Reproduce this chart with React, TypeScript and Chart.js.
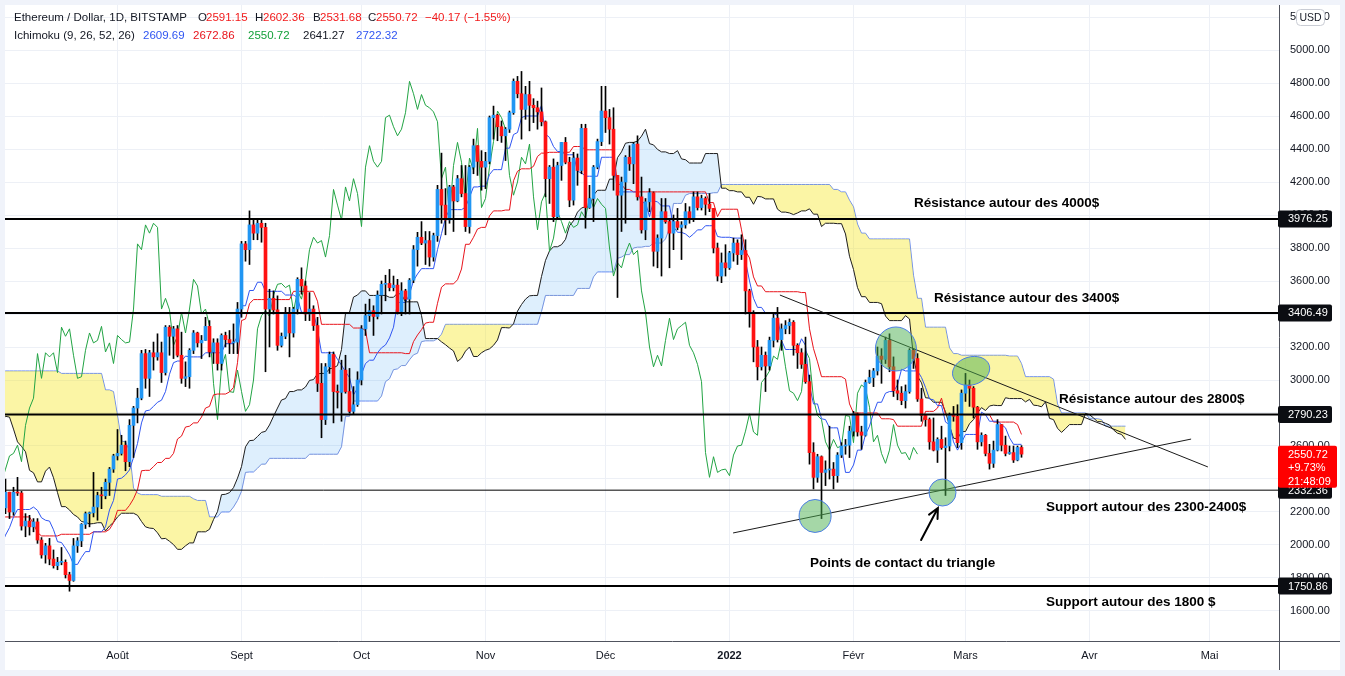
import { useEffect, useRef } from "react";
import { Chart, registerables } from "chart.js";

Chart.register(...registerables);

// ---------------- DATA ----------------
// Day index 0 = 1 Aug 2021. First daily candle = 15 Apr 2021 (day -108), last = 15 Mar 2022 (day 226).
// Candles before early July are not visible; they only feed the Ichimoku indicator.
const FIRST_DAY = -108;
const FIRST_OPEN = 2430;

const closes = [
  /* Apr 21 */ 2515, 2420, 2315, 2235, 2165, 2330, 2360, 2400, 2365, 2215, 2305, 2530, 2660, 2750, 2760, 2770,
  /* May 21 */ 2945, 2950, 3430, 3250, 3520, 3490, 3480, 3900, 3930, 3950, 4170, 3820, 3720, 4080, 3640, 3590, 3280, 3380, 2440, 2770, 2430, 2300, 2100, 2640, 2710, 2880, 2740, 2420, 2280, 2390, 2710,
  /* Jun 21 */ 2630, 2710, 2860, 2690, 2630, 2710, 2590, 2510, 2610, 2470, 2360, 2370, 2510, 2580, 2550, 2370, 2370, 2230, 2180, 2250, 1890, 1875, 1970, 1990, 1810, 1830, 1980, 2080, 2160, 2275,
  /* Jul 21 */ 2110, 2150, 2225, 2320, 2200, 2320, 2315, 2115, 2145, 2110, 2140, 2030, 1940, 1995, 1915, 1875, 1895, 1895, 1820, 1785, 1995, 2025, 2125, 2190, 2195, 2230, 2300, 2298, 2380, 2460, 2540,
  /* Aug 21 */ 2555, 2605, 2505, 2725, 2830, 2890, 3160, 3010, 3165, 3140, 3165, 3045, 3320, 3265, 3310, 3150, 3010, 3020, 3180, 3285, 3225, 3240, 3325, 3170, 3225, 3100, 3270, 3245, 3225, 3230, 3430,
  /* Sep 21 */ 3825, 3790, 3940, 3890, 3950, 3925, 3430, 3495, 3425, 3210, 3265, 3410, 3285, 3430, 3610, 3570, 3400, 3430, 3330, 2980, 2760, 3080, 3155, 2930, 2925, 3060, 2930, 2810, 2850, 3000,
  /* Oct 21 */ 3310, 3390, 3420, 3385, 3515, 3580, 3585, 3560, 3575, 3415, 3540, 3490, 3605, 3790, 3865, 3830, 3845, 3745, 3875, 4155, 4060, 3970, 4170, 4085, 4220, 4130, 3930, 4290, 4420, 4325, 4290,
  /* Nov 21 */ 4325, 4590, 4605, 4535, 4480, 4520, 4620, 4810, 4735, 4640, 4730, 4665, 4650, 4625, 4565, 4220, 4290, 3990, 4300, 4440, 4320, 4090, 4345, 4270, 4525, 4045, 4100, 4290, 4445, 4630,
  /* Dec 21 */ 4590, 4520, 4240, 4120, 4200, 4350, 4310, 4430, 4110, 3910, 4080, 4135, 3780, 3860, 4020, 3960, 3890, 3960, 3925, 3940, 4020, 3980, 4110, 4045, 4100, 4065, 4040, 3800, 3630, 3710, 3680,
  /* Jan 22 */ 3770, 3830, 3760, 3785, 3540, 3410, 3200, 3080, 3150, 3085, 3240, 3375, 3245, 3310, 3330, 3350, 3210, 3165, 3095, 2990, 2560, 2410, 2535, 2440, 2455, 2460, 2420, 2545, 2600, 2605, 2690,
  /* Feb 22 */ 2795, 2685, 2665, 2985, 3015, 3055, 3145, 3125, 3240, 3080, 2935, 2920, 2875, 2930, 3180, 3130, 2885, 2785, 2760, 2625, 2575, 2640, 2590, 2600, 2785, 2780, 2620, 2920,
  /* Mar 22 */ 2970, 2950, 2835, 2625, 2665, 2555, 2495, 2575, 2730, 2605, 2555, 2560, 2515, 2591.15, 2550.72,
];

const highs = [
  /* Apr 21 */ 2545, 2550, 2495, 2355, 2280, 2345, 2495, 2645, 2420, 2370, 2345, 2530, 2675, 2760, 2800, 2790,
  /* May 21 */ 2950, 2985, 3450, 3530, 3540, 3610, 3600, 3900, 3970, 4200, 4190, 4380, 4150, 4180, 4160, 3870, 3560, 3550, 3440, 2990, 2930, 2480, 2380, 2670, 2750, 2910, 2880, 2760, 2570, 2450, 2710,
  /* Jun 21 */ 2730, 2750, 2890, 2860, 2760, 2750, 2840, 2620, 2620, 2620, 2490, 2450, 2520, 2600, 2640, 2560, 2450, 2390, 2280, 2260, 2250, 2000, 2050, 2040, 2010, 1850, 1990, 2100, 2220, 2280,
  /* Jul 21 */ 2280, 2165, 2240, 2400, 2320, 2350, 2410, 2325, 2190, 2180, 2160, 2160, 2045, 2010, 2040, 1970, 1925, 1985, 1910, 1835, 2040, 2045, 2130, 2200, 2200, 2440, 2320, 2350, 2400, 2470, 2550,
  /* Aug 21 */ 2700, 2665, 2630, 2760, 2840, 2950, 3180, 3185, 3180, 3230, 3280, 3230, 3330, 3330, 3325, 3330, 3290, 3110, 3190, 3300, 3290, 3270, 3380, 3360, 3250, 3250, 3280, 3290, 3300, 3340, 3470,
  /* Sep 21 */ 3840, 3840, 4025, 3975, 3980, 3980, 3950, 3550, 3540, 3510, 3285, 3440, 3440, 3440, 3620, 3680, 3600, 3530, 3450, 3380, 3100, 3100, 3170, 3170, 2970, 3120, 3150, 3070, 2960, 3050,
  /* Oct 21 */ 3330, 3460, 3490, 3450, 3540, 3600, 3635, 3670, 3630, 3610, 3590, 3550, 3615, 3815, 3895, 3960, 3900, 3900, 3890, 4180, 4375, 4160, 4180, 4180, 4240, 4300, 4300, 4300, 4460, 4420, 4390,
  /* Nov 21 */ 4380, 4600, 4660, 4610, 4570, 4530, 4630, 4825, 4840, 4870, 4780, 4810, 4705, 4690, 4770, 4570, 4300, 4340, 4320, 4440, 4470, 4350, 4380, 4370, 4550, 4550, 4180, 4300, 4460, 4780,
  /* Dec 21 */ 4780, 4640, 4650, 4240, 4230, 4360, 4420, 4440, 4480, 4230, 4100, 4160, 4140, 3880, 4100, 4100, 3980, 4000, 4040, 3960, 4070, 4050, 4140, 4140, 4120, 4110, 4130, 4040, 3830, 3770, 3820,
  /* Jan 22 */ 3780, 3860, 3850, 3880, 3850, 3550, 3420, 3240, 3200, 3170, 3260, 3410, 3440, 3340, 3360, 3370, 3360, 3220, 3190, 3260, 3030, 2620, 2550, 2540, 2510, 2720, 2500, 2560, 2620, 2640, 2720,
  /* Feb 22 */ 2810, 2800, 2720, 3000, 3060, 3070, 3200, 3190, 3260, 3280, 3140, 3000, 2960, 2970, 3190, 3190, 3160, 2950, 2790, 2770, 2770, 2650, 2720, 2650, 2800, 2840, 2850, 2940,
  /* Mar 22 */ 3040, 3000, 2960, 2840, 2680, 2670, 2610, 2630, 2760, 2730, 2660, 2600, 2600, 2600, 2602.36,
];

const lows = [
  /* Apr 21 */ 2360, 2310, 2300, 1950, 2110, 2100, 2300, 2330, 2110, 2170, 2190, 2290, 2510, 2590, 2680, 2710,
  /* May 21 */ 2765, 2860, 2950, 3160, 3200, 3400, 3370, 3470, 3670, 3700, 3850, 3780, 3520, 3720, 3620, 3320, 3130, 3270, 1900, 2170, 2110, 2170, 1730, 2070, 2390, 2660, 2640, 2340, 2240, 2190, 2330,
  /* Jun 21 */ 2530, 2580, 2700, 2590, 2550, 2620, 2580, 2320, 2400, 2450, 2320, 2250, 2310, 2460, 2510, 2330, 2310, 2170, 2170, 2040, 1870, 1700, 1860, 1890, 1800, 1720, 1810, 1940, 2060, 2090,
  /* Jul 21 */ 2090, 2020, 2120, 2190, 2160, 2180, 2300, 2090, 2050, 2060, 2080, 2010, 1920, 1890, 1880, 1860, 1850, 1880, 1800, 1720, 1780, 1955, 1990, 2100, 2110, 2170, 2150, 2220, 2280, 2300, 2440,
  /* Aug 21 */ 2515, 2545, 2450, 2475, 2530, 2740, 2880, 2950, 2900, 3060, 3120, 2985, 3030, 3150, 3130, 3140, 2980, 2960, 2950, 3160, 3200, 3130, 3240, 3140, 3100, 3060, 3060, 3200, 3160, 3160, 3160,
  /* Sep 21 */ 3380, 3720, 3700, 3850, 3850, 3835, 3050, 3200, 3400, 3180, 3200, 3250, 3140, 3260, 3400, 3520, 3360, 3360, 3300, 2930, 2650, 2730, 3040, 2740, 2830, 2750, 2920, 2800, 2790, 2840,
  /* Oct 21 */ 2970, 3270, 3355, 3270, 3370, 3400, 3480, 3540, 3540, 3400, 3390, 3400, 3400, 3590, 3690, 3820, 3700, 3690, 3720, 3840, 3950, 3880, 3950, 3900, 4080, 4110, 3900, 3890, 4250, 4240, 4150,
  /* Nov 21 */ 4160, 4310, 4460, 4450, 4440, 4330, 4500, 4610, 4710, 4460, 4580, 4510, 4560, 4520, 4540, 4110, 4070, 3960, 3980, 4210, 4310, 4050, 4060, 4180, 4250, 3920, 4040, 3960, 4280, 4420,
  /* Dec 21 */ 4500, 4430, 4150, 3500, 3900, 3950, 4270, 4190, 4090, 3890, 3850, 4020, 3690, 3680, 3630, 3950, 3680, 3790, 3910, 3730, 3920, 3950, 3960, 4030, 4030, 4000, 4020, 3770, 3600, 3590, 3630,
  /* Jan 22 */ 3670, 3720, 3700, 3730, 3400, 3320, 3110, 3000, 3060, 2930, 3060, 3200, 3230, 3180, 3280, 3280, 3150, 3070, 3070, 2980, 2490, 2340, 2380, 2160, 2360, 2400, 2340, 2380, 2530, 2550, 2530,
  /* Feb 22 */ 2660, 2660, 2580, 2660, 2980, 2960, 3030, 2980, 3100, 3050, 2900, 2880, 2850, 2830, 2920, 3070, 2870, 2750, 2720, 2580, 2570, 2500, 2580, 2300, 2570, 2750, 2590, 2580,
  /* Mar 22 */ 2870, 2840, 2770, 2580, 2600, 2540, 2460, 2470, 2570, 2570, 2540, 2550, 2500, 2510, 2531.68,
];

// Axis ticks
const monthTickDays = [0, 31, 61, 92, 122, 153, 184, 212, 243, 273];
const monthTickLabels = ["Août", "Sept", "Oct", "Nov", "Déc", "2022", "Févr", "Mars", "Avr", "Mai"];
const priceTicks = [1600, 1800, 2000, 2200, 2400, 2600, 2800, 3000, 3200, 3400, 3600, 3800, 4000, 4200, 4400, 4600, 4800, 5000, 5200];

// Horizontal levels
const levelPrices = [3976.25, 3406.49, 2790.23, 2332.36, 1750.86];
const levelLabels = ["3976.25", "3406.49", "2790.23", "2332.36", "1750.86"];

// Triangle trend lines (day, price)
const trendStartDays = [165.6, 153.9];
const trendStartPrices = [3515, 2073];
const trendEndDays = [272.6, 268.4];
const trendEndPrices = [2473, 2642];

// Contact-point ellipses (day, price)
const contactDays = [174.4, 194.6, 213.4, 206.25];
const contactPrices = [2176, 3188, 3055, 2318];

// Arrow (tail, head)
const arrowDays = [200.9, 205.1];
const arrowPrices = [2030, 2224];

// Text notes (left anchor day, price)
const noteTexts = [
  "Résistance autour des 4000$",
  "Résistance autour des 3400$",
  "Résistance autour des 2800$",
  "Support autour des 2300-2400$",
  "Points de contact du triangle",
  "Support autour des 1800 $",
];
const noteDays = [199.1, 204.1, 235.4, 232.1, 173.1, 232.1];
const notePrices = [4073, 3497, 2885, 2230, 1891, 1655];

// Legend / last price labels (as shown on the chart)
const symbolTitle = "Ethereum / Dollar, 1D, BITSTAMP";
const ohlcLetters = ["O", "H", "B", "C"];
const ohlcValues = ["2591.15", "2602.36", "2531.68", "2550.72"];
const changeLabel = "−40.17 (−1.55%)";
const ichimokuTitle = "Ichimoku (9, 26, 52, 26)";
const ichimokuValues = ["2609.69", "2672.86", "2550.72", "2641.27", "2722.32"];
const lastClose = 2550.72;
const lastCloseLabels = ["2550.72", "+9.73%", "21:48:09"];
const ichimokuPeriods = [9, 26, 52, 26];

// ---------------- STYLE ----------------
const X_MIN = -28.125;
const X_MAX = 290.375;
const Y_MIN = 1418.18;
const Y_MAX = 5272.73;
const FONT = '"Liberation Sans", Arial, sans-serif';
const UP = "#2196f3";
const DOWN = "#ff1212";
const TENKAN_C = "#2f55f2";
const KIJUN_C = "#e8141c";
const CHIKOU_C = "#22a444";
const SPANA_C = "#1e1e1e";
const SPANB_C = "#6f8ef2";
const CLOUD_UP = "rgba(33,150,243,0.15)";
const CLOUD_DOWN = "rgba(246,232,40,0.42)";
const GRID_C = "#edf0f6";
const TEXT_C = "#131722";
const LEGEND_RED = "#f21a1a";
const levelWidths = [2, 2, 2, 1, 2];
const ellipseRadii = [[16, 16.5], [20.5, 22], [19, 14], [13.5, 13.5]];
const ellipseRot = [0, 0, -0.3, 0];
const ohlcLetterX = [198, 255, 313, 368];
const ohlcValueX = [206, 263, 320, 376];
const changeX = 425;
const ichiValueX = [143, 193, 248, 303, 356];
const ichiValueColors = [TENKAN_C, KIJUN_C, "#13a03a", TEXT_C, TENKAN_C];

// ---------------- DERIVED ----------------
const N = closes.length;
const days = closes.map((_, i) => FIRST_DAY + i);
const opens = closes.map((_, i) => (i === 0 ? FIRST_OPEN : closes[i - 1]));

function midRange(end: number, len: number): number | null {
  if (end - len + 1 < 0) return null;
  let hi = -Infinity;
  let lo = Infinity;
  for (let k = end - len + 1; k <= end; k++) {
    if (highs[k] > hi) hi = highs[k];
    if (lows[k] < lo) lo = lows[k];
  }
  return (hi + lo) / 2;
}

const [P_T, P_K, P_B, SHIFT] = ichimokuPeriods;
const tenkanPts: any[] = [];
const kijunPts: any[] = [];
const chikouPts: any[] = [];
const spanAPts: any[] = [];
const spanBPts: any[] = [];
const wickPts: any[] = [];
const bodyPts: any[] = [];
const bodyColors: string[] = [];

for (let i = 0; i < N; i++) {
  const d = days[i];
  if (d >= X_MIN - 2) {
    const t = midRange(i, P_T);
    const k = midRange(i, P_K);
    if (t !== null) tenkanPts.push({ x: d, y: t });
    if (k !== null) kijunPts.push({ x: d, y: k });
    wickPts.push({ x: d, y: [lows[i], highs[i]] });
    bodyPts.push({ x: d, y: [opens[i], closes[i]] });
    bodyColors.push(closes[i] >= opens[i] ? UP : DOWN);
  }
  if (d - SHIFT >= X_MIN - 2) chikouPts.push({ x: d - SHIFT, y: closes[i] });
  if (i >= P_B - 1) {
    const t = midRange(i, P_T) as number;
    const k = midRange(i, P_K) as number;
    spanAPts.push({ x: d + SHIFT, y: (t + k) / 2 });
    spanBPts.push({ x: d + SHIFT, y: midRange(i, P_B) });
  }
}

// ---------------- PLUGINS ----------------
const bgPlugin = {
  id: "bg",
  beforeDraw(chart: any) {
    const { ctx, width, height } = chart;
    ctx.save();
    ctx.fillStyle = "#ffffff";
    ctx.fillRect(0, 0, width, height);
    ctx.restore();
  },
};

const overlayPlugin = {
  id: "overlay",
  afterDatasetsDraw(chart: any) {
    const { ctx, chartArea } = chart;
    const xs = chart.scales.x;
    const ys = chart.scales.y;
    ctx.save();
    ctx.beginPath();
    ctx.rect(chartArea.left, chartArea.top, chartArea.right - chartArea.left, chartArea.bottom - chartArea.top);
    ctx.clip();

    // ellipses
    contactDays.forEach((d, i) => {
      const cx = xs.getPixelForValue(d);
      const cy = ys.getPixelForValue(contactPrices[i]);
      ctx.beginPath();
      ctx.ellipse(cx, cy, ellipseRadii[i][0], ellipseRadii[i][1], ellipseRot[i], 0, Math.PI * 2);
      ctx.fillStyle = "rgba(76,175,80,0.5)";
      ctx.fill();
      ctx.lineWidth = 1;
      ctx.strokeStyle = "#4a7de6";
      ctx.stroke();
    });

    // arrow
    const ax0 = xs.getPixelForValue(arrowDays[0]);
    const ay0 = ys.getPixelForValue(arrowPrices[0]);
    const ax1 = xs.getPixelForValue(arrowDays[1]);
    const ay1 = ys.getPixelForValue(arrowPrices[1]);
    const ang = Math.atan2(ay1 - ay0, ax1 - ax0);
    ctx.strokeStyle = "#000";
    ctx.lineWidth = 2;
    ctx.lineCap = "round";
    ctx.beginPath();
    ctx.moveTo(ax0, ay0);
    ctx.lineTo(ax1, ay1);
    ctx.moveTo(ax1 - 11 * Math.cos(ang - 0.45), ay1 - 11 * Math.sin(ang - 0.45));
    ctx.lineTo(ax1, ay1);
    ctx.lineTo(ax1 - 11 * Math.cos(ang + 0.45), ay1 - 11 * Math.sin(ang + 0.45));
    ctx.stroke();

    // notes
    ctx.font = `bold 13.5px ${FONT}`;
    ctx.fillStyle = "#000";
    ctx.textAlign = "left";
    ctx.textBaseline = "middle";
    noteTexts.forEach((t, i) => {
      ctx.fillText(t, xs.getPixelForValue(noteDays[i]), ys.getPixelForValue(notePrices[i]));
    });
    ctx.restore();
  },
  afterDraw(chart: any) {
    const { ctx, chartArea, width, height } = chart;
    const ys = chart.scales.y;
    ctx.save();
    // axis border lines
    ctx.strokeStyle = "#50535e";
    ctx.lineWidth = 1;
    ctx.beginPath();
    ctx.moveTo(Math.round(chartArea.right) + 0.5, 0);
    ctx.lineTo(Math.round(chartArea.right) + 0.5, height);
    ctx.moveTo(0, Math.round(chartArea.bottom) + 0.5);
    ctx.lineTo(width, Math.round(chartArea.bottom) + 0.5);
    ctx.stroke();

    // level boxes
    ctx.font = `11px ${FONT}`;
    ctx.textBaseline = "middle";
    ctx.textAlign = "left";
    levelPrices.forEach((p, i) => {
      const cy = ys.getPixelForValue(p);
      ctx.fillStyle = "#0b0d12";
      ctx.beginPath();
      (ctx as any).roundRect(chartArea.right - 1, cy - 8.5, 54, 17, 2);
      ctx.fill();
      ctx.fillStyle = "#ffffff";
      ctx.fillText(levelLabels[i], chartArea.right + 9, cy + 0.5);
    });

    // last price box
    const ly = ys.getPixelForValue(lastClose);
    ctx.fillStyle = "#ff0000";
    ctx.beginPath();
    (ctx as any).roundRect(chartArea.right - 1, ly - 8.5, 59, 42, 2);
    ctx.fill();
    ctx.fillStyle = "#ffffff";
    lastCloseLabels.forEach((t, i) => ctx.fillText(t, chartArea.right + 9, ly + 0.5 + i * 13.5));

    // USD box
    ctx.fillStyle = "#ffffff";
    ctx.strokeStyle = "#c9ccd4";
    ctx.beginPath();
    (ctx as any).roundRect(chartArea.right + 17.5, 4.5, 28, 16, 4);
    ctx.fill();
    ctx.stroke();
    ctx.fillStyle = TEXT_C;
    ctx.textAlign = "center";
    ctx.font = `10.5px ${FONT}`;
    ctx.fillText("USD", chartArea.right + 31.5, 13);

    // legend
    ctx.textAlign = "left";
    ctx.font = `11.5px ${FONT}`;
    const l1 = 13;
    const l2 = 31;
    const seg = (t: string, x: number, y: number, c: string) => {
      ctx.fillStyle = c;
      ctx.fillText(t, x - 5, y);
    };
    seg(symbolTitle, 14, l1, TEXT_C);
    ohlcLetters.forEach((t, i) => {
      seg(t, ohlcLetterX[i], l1, TEXT_C);
      seg(ohlcValues[i], ohlcValueX[i], l1, LEGEND_RED);
    });
    seg(changeLabel, changeX, l1, LEGEND_RED);
    seg(ichimokuTitle, 14, l2, TEXT_C);
    ichimokuValues.forEach((t, i) => seg(t, ichiValueX[i], l2, ichiValueColors[i]));
    ctx.restore();
  },
};

// ---------------- COMPONENT ----------------
export default function App() {
  const ref = useRef<HTMLCanvasElement | null>(null);

  useEffect(() => {
    if (!ref.current) return;
    const lineDs = (label: string, data: any[], color: string, order: number, extra: any = {}) => ({
      type: "line",
      label,
      data,
      borderColor: color,
      borderWidth: 1,
      pointRadius: 0,
      tension: 0,
      fill: false,
      order,
      ...extra,
    });

    const datasets: any[] = [
      lineDs("Span A", spanAPts, SPANA_C, 20, { fill: { target: 1, above: CLOUD_UP, below: CLOUD_DOWN } }),
      lineDs("Span B", spanBPts, SPANB_C, 20),
      lineDs("Chikou", chikouPts, CHIKOU_C, 15),
      lineDs("Kijun", kijunPts, KIJUN_C, 14),
      lineDs("Tenkan", tenkanPts, TENKAN_C, 13),
      {
        type: "bar",
        label: "wicks",
        data: wickPts,
        backgroundColor: "#000000",
        borderWidth: 0,
        barThickness: 1,
        grouped: false,
        order: 11,
      },
      {
        type: "bar",
        label: "bodies",
        data: bodyPts,
        backgroundColor: bodyColors,
        borderWidth: 0,
        barThickness: 3,
        minBarLength: 1,
        grouped: false,
        order: 10,
      },
      ...levelPrices.map((p, i) =>
        lineDs("level" + i, [{ x: X_MIN, y: p }, { x: X_MAX, y: p }], "#000000", 5, { borderWidth: levelWidths[i] })
      ),
      ...trendStartDays.map((d, i) =>
        lineDs("trend" + i, [{ x: d, y: trendStartPrices[i] }, { x: trendEndDays[i], y: trendEndPrices[i] }], "#1a1a1a", 4)
      ),
    ];

    const chart = new Chart(ref.current, {
      type: "bar",
      data: { datasets },
      options: {
        animation: false,
        responsive: false,
        maintainAspectRatio: false,
        devicePixelRatio: 1,
        events: [],
        layout: { padding: 0 },
        plugins: { legend: { display: false }, tooltip: { enabled: false } },
        scales: {
          x: {
            type: "linear",
            min: X_MIN,
            max: X_MAX,
            offset: false,
            bounds: "data",
            grid: { color: GRID_C, drawTicks: false, offset: false },
            border: { display: false },
            ticks: {
              autoSkip: false,
              maxRotation: 0,
              minRotation: 0,
              padding: 8,
              color: TEXT_C,
              font: (c: any) => ({
                family: FONT,
                size: 11,
                weight: c.tick && c.tick.label === "2022" ? "bold" : "normal",
              }),
              callback: (_v: any, i: number) => monthTickLabels[i],
            },
            afterBuildTicks: (s: any) => {
              s.ticks = monthTickDays.map((v) => ({ value: v }));
            },
            afterFit: (s: any) => {
              s.height = 29;
              s.paddingLeft = 0;
              s.paddingRight = 0;
            },
          },
          y: {
            type: "linear",
            position: "right",
            min: Y_MIN,
            max: Y_MAX,
            bounds: "data",
            grid: { color: GRID_C, drawTicks: false },
            border: { display: false },
            ticks: {
              autoSkip: false,
              padding: 11,
              color: TEXT_C,
              font: { family: FONT, size: 11 },
              callback: (v: any) => Number(v).toFixed(2),
            },
            afterBuildTicks: (s: any) => {
              s.ticks = priceTicks.map((v) => ({ value: v }));
            },
            afterFit: (s: any) => {
              s.width = 61;
              s.paddingTop = 0;
              s.paddingBottom = 0;
            },
          },
        },
      } as any,
      plugins: [bgPlugin, overlayPlugin],
    } as any);
    return () => chart.destroy();
  }, []);

  return (
    <div style={{ position: "fixed", left: 0, top: 0, width: 1345, height: 676, background: "#f0f3fa" }}>
      <canvas
        ref={ref}
        width={1335}
        height={665}
        style={{ position: "absolute", left: 5, top: 5, width: 1335, height: 665 }}
      />
    </div>
  );
}
